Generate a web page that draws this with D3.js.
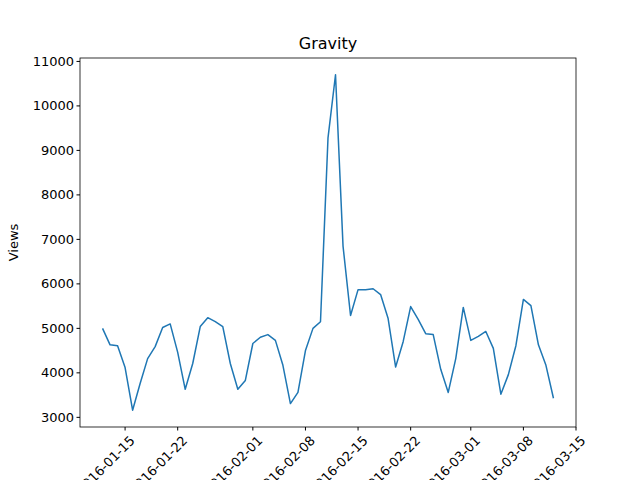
<!DOCTYPE html>
<html><head><meta charset="utf-8">
<script src="https://cdn.jsdelivr.net/npm/d3@7"></script>
<style>body{margin:0;background:#fff}text{font-family:"DejaVu Sans",sans-serif}</style>
</head><body><svg id="c" width="640" height="480"></svg>
<script>
// daily views 2016-01-12 .. 2016-03-12
var startDate = "2016-01-12";
var views = [5000,4630,4610,4120,3160,3760,4320,4590,5020,5100,
  4460,3630,4210,5040,5240,5150,5040,4210,3630,3830,
  4660,4800,4860,4730,4170,3310,3560,4500,5000,5150,
  9280,10700,6850,5290,5870,5870,5890,5760,5220,4130,
  4700,5490,5200,4880,4860,4080,3560,4320,5470,4730,
  4820,4930,4550,3520,3960,4610,5650,5510,4630,4170,3430];
var yTicks = [3000,4000,5000,6000,7000,8000,9000,10000,11000];
var xTickDates = ["2016-01-15","2016-01-22","2016-02-01","2016-02-08","2016-02-15","2016-02-22","2016-03-01","2016-03-08","2016-03-15"];

var parse = d3.utcParse("%Y-%m-%d");
var t0 = parse(startDate);
var data = views.map((v, i) => ({date: d3.utcDay.offset(t0, i), v: v}));

var svg = d3.select("#c");
var L = 80, R = 576, T = 58, B = 427;

var x = d3.scaleUtc()
  .domain([d3.utcDay.offset(t0, -3), d3.utcDay.offset(t0, views.length - 1 + 3)])
  .range([L, R]);
var lo = d3.min(views), hi = d3.max(views), pad = (hi - lo) * 0.05;
var y = d3.scaleLinear().domain([lo - pad, hi + pad]).range([B, T]);

svg.append("path").datum(data)
  .attr("fill", "none").attr("stroke", "#1f77b4").attr("stroke-width", 1.5)
  .attr("stroke-linejoin", "round")
  .attr("d", d3.line().x(d => x(d.date)).y(d => y(d.v)));

svg.append("rect").attr("x", L).attr("y", T).attr("width", R - L).attr("height", B - T)
  .attr("fill", "none").attr("stroke", "#000").attr("stroke-width", 0.8);

var ya = svg.append("g");
yTicks.forEach(t => {
  ya.append("line").attr("x1", L - 3.5).attr("x2", L).attr("y1", y(t)).attr("y2", y(t)).attr("stroke", "#000");
  ya.append("text").attr("x", L - 6).attr("y", y(t)).attr("dy", "0.35em")
    .attr("text-anchor", "end").attr("font-size", 13).text(t);
});

var xa = svg.append("g");
xTickDates.forEach(s => {
  var px = x(parse(s));
  xa.append("line").attr("x1", px).attr("x2", px).attr("y1", B).attr("y2", B + 3.5).attr("stroke", "#000");
  xa.append("text").attr("transform", "translate(" + (px + 4) + "," + (B + 8) + ") rotate(-45)")
    .attr("text-anchor", "end").attr("dy", "0.7em").attr("font-size", 13).text(s);
});

svg.append("text").attr("x", (L + R) / 2).attr("y", T - 9).attr("text-anchor", "middle")
  .attr("font-size", 16).text("Gravity");
svg.append("text").attr("transform", "translate(18," + ((T + B) / 2) + ") rotate(-90)")
  .attr("text-anchor", "middle").attr("font-size", 13).text("Views");
</script></body></html>
